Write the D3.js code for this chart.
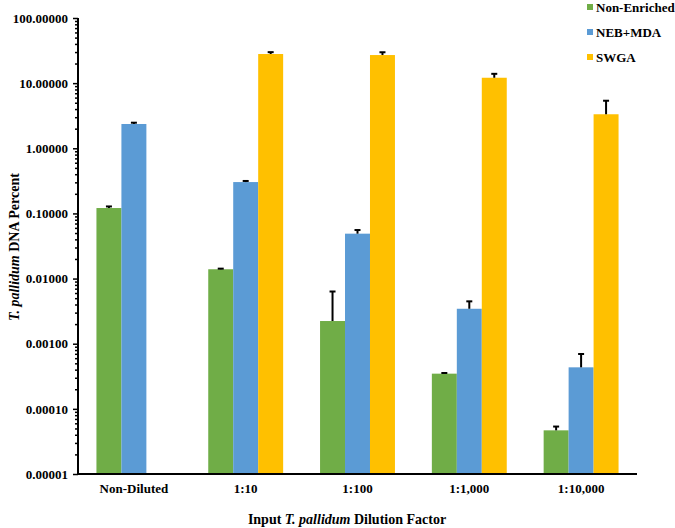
<!DOCTYPE html>
<html>
<head>
<meta charset="utf-8">
<script src="https://cdn.jsdelivr.net/npm/d3@7"></script>
<style>
  html, body { margin: 0; padding: 0; background: #fff; }
  svg { display: block; }
  text { font-family: "Liberation Serif", "Times New Roman", serif; font-weight: bold; fill: #000; }
</style>
</head>
<body>
<svg id="chart" width="675" height="528"></svg>
<script>
const categories = ["Non-Diluted", "1:10", "1:100", "1:1,000", "1:10,000"];
const seriesNames = ["Non-Enriched", "NEB+MDA", "SWGA"];
const seriesColors = ["#70AD47", "#5B9BD5", "#FFC000"];
const nonEnriched = [0.121, 0.0139, 0.00223, 0.000347, 0.0000468];
const nonEnrichedErr = [0.007, 0.0003, 0.0041, 0.000008, 0.0000067];
const nebMda = [2.36, 0.303, 0.0489, 0.00344, 0.000434];
const nebMdaErr = [0.11, 0.012, 0.0067, 0.00103, 0.000261];
const swga = [null, 28.0, 27.0, 12.1, 3.33];
const swgaErr = [null, 1.9, 2.8, 1.8, 2.04];
const yTicks = [0.00001, 0.0001, 0.001, 0.01, 0.1, 1, 10, 100];

const values = [nonEnriched, nebMda, swga];
const errors = [nonEnrichedErr, nebMdaErr, swgaErr];

const svg = d3.select("#chart");
const mLeft = 78, mRight = 637, mTop = 18, mBottom = 474;

const y = d3.scaleLog().domain([0.00001, 100]).range([mBottom, mTop]);
const x0 = d3.scaleBand().domain(categories).range([mLeft, mRight]).paddingInner(0.33).paddingOuter(0.165);
const x1 = d3.scaleBand().domain(seriesNames).range([0, x0.bandwidth()]);

const records = [];
categories.forEach((c, i) => {
  seriesNames.forEach((s, j) => {
    if (values[j][i] != null) records.push({ cat: c, series: s, idx: j, v: values[j][i], e: errors[j][i] });
  });
});

// bars
svg.append("g").selectAll("rect").data(records).join("rect")
  .attr("x", d => x0(d.cat) + x1(d.series))
  .attr("y", d => y(d.v))
  .attr("width", x1.bandwidth())
  .attr("height", d => y(0.00001) - y(d.v))
  .attr("fill", d => seriesColors[d.idx]);

// error bars (upper only)
const eg = svg.append("g").attr("stroke", "#000").attr("stroke-width", 2);
records.forEach(d => {
  const cx = x0(d.cat) + x1(d.series) + x1.bandwidth() / 2;
  eg.append("line").attr("x1", cx).attr("x2", cx).attr("y1", y(d.v)).attr("y2", y(d.v + d.e));
  eg.append("line").attr("x1", cx - 3).attr("x2", cx + 3).attr("y1", y(d.v + d.e)).attr("y2", y(d.v + d.e));
});

// minor ticks
const minor = [];
for (let k = -5; k < 2; k++) for (let m = 2; m <= 9; m++) minor.push(m * Math.pow(10, k));
const minorAxis = d3.axisLeft(y).tickValues(minor).tickSize(3).tickFormat("");
const mg = svg.append("g").attr("transform", `translate(${mLeft},0)`).call(minorAxis);
mg.select(".domain").remove();
mg.selectAll("line").attr("stroke", "#000").attr("stroke-width", 1.5);

// y axis major
const yAxis = d3.axisLeft(y).tickValues(yTicks).tickSize(5).tickPadding(5).tickFormat(d3.format(".5f"));
const yg = svg.append("g").attr("transform", `translate(${mLeft},0)`).call(yAxis);
yg.select(".domain").attr("stroke", "#000").attr("stroke-width", 2).attr("d", `M0,${mTop}V${mBottom}`);
yg.selectAll(".tick line").attr("stroke", "#000").attr("stroke-width", 1.5);
yg.selectAll(".tick text").style("font-size", "13px").style("font-family", "Liberation Serif").style("font-weight", "bold");

// x axis
const xAxis = d3.axisBottom(x0).tickSize(0).tickPadding(10);
const xg = svg.append("g").attr("transform", `translate(0,${mBottom})`).call(xAxis);
xg.select(".domain").attr("stroke", "#000").attr("stroke-width", 2).attr("d", `M${mLeft - 1},0H${mRight}`);
xg.selectAll(".tick text").style("font-size", "13px").style("font-family", "Liberation Serif").style("font-weight", "bold");

// y label
const yl = svg.append("text")
  .attr("transform", `translate(19,247) rotate(-90)`)
  .attr("text-anchor", "middle")
  .style("font-size", "14px");
yl.append("tspan").style("font-style", "italic").text("T. pallidum");
yl.append("tspan").text(" DNA Percent");

// x label
const xl = svg.append("text")
  .attr("x", 347).attr("y", 524)
  .attr("text-anchor", "middle")
  .style("font-size", "14px");
xl.append("tspan").text("Input ");
xl.append("tspan").style("font-style", "italic").text("T. pallidum");
xl.append("tspan").text(" Dilution Factor");

// legend
const lg = svg.append("g");
seriesNames.forEach((s, i) => {
  const ly = 7 + i * 25;
  lg.append("rect").attr("x", 587).attr("y", ly - 3).attr("width", 6).attr("height", 6).attr("fill", seriesColors[i]);
  lg.append("text").attr("x", 596).attr("y", ly).attr("dy", "0.35em").style("font-size", "13px").text(s);
});
</script>
</body>
</html>
